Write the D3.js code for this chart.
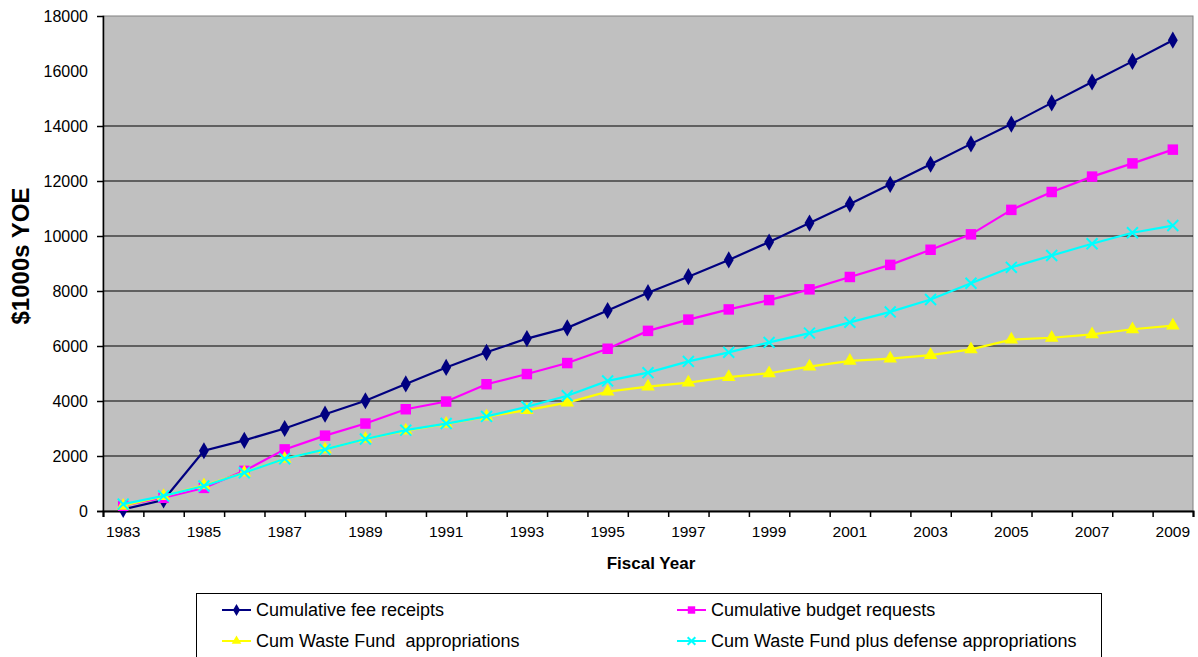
<!DOCTYPE html>
<html>
<head>
<meta charset="utf-8">
<script src="https://cdn.jsdelivr.net/npm/d3@7.9.0/dist/d3.min.js"></script>
<style>
  body { margin: 0; background: #fff; }
  svg { display: block; font-family: "Liberation Sans", Arial, sans-serif; }
</style>
</head>
<body>
<svg id="chart"></svg>
<script>
// fiscal years and cumulative series, $1000s YOE
const years = [1983, 1984, 1985, 1986, 1987, 1988, 1989, 1990, 1991, 1992, 1993, 1994, 1995, 1996,
  1997, 1998, 1999, 2000, 2001, 2002, 2003, 2004, 2005, 2006, 2007, 2008, 2009];
const xLabels = ["1983", "1985", "1987", "1989", "1991", "1993", "1995", "1997", "1999", "2001", "2003", "2005", "2007", "2009"];
const yTicks = [0, 2000, 4000, 6000, 8000, 10000, 12000, 14000, 16000, 18000];
const gridValues = [2000, 4000, 6000, 8000, 10000, 12000, 14000];

const feeReceipts = [60, 400, 2190, 2570, 3000, 3520, 4010, 4620, 5220, 5770, 6270, 6660, 7290, 7940,
  8520, 9130, 9780, 10470, 11160, 11880, 12610, 13350, 14070, 14840, 15600, 16350, 17120];
const budgetRequests = [190, 480, 840, 1460, 2240, 2740, 3180, 3700, 3980, 4610, 4980, 5380, 5900, 6550,
  6960, 7330, 7670, 8060, 8510, 8950, 9500, 10060, 10950, 11600, 12160, 12640, 13140];
const wasteFund = [190, 540, 930, 1400, 1900, 2240, 2620, 2920, 3170, 3430, 3670, 3940, 4340, 4520,
  4670, 4870, 5010, 5250, 5460, 5540, 5670, 5880, 6230, 6300, 6420, 6610, 6740];
const wastePlusDefense = [250, 550, 910, 1390, 1900, 2240, 2620, 2940, 3180, 3440, 3790, 4190, 4730, 5030,
  5440, 5770, 6130, 6470, 6860, 7240, 7690, 8280, 8860, 9290, 9720, 10120, 10380];

const seriesNames = ["Cumulative fee receipts", "Cumulative budget requests",
  "Cum Waste Fund  appropriations", "Cum Waste Fund plus defense appropriations"];

const W = 1198, H = 657;
const plot = { left: 103, right: 1193, top: 16, bottom: 511 };

const svg = d3.select("#chart").attr("width", W).attr("height", H);
svg.append("rect").attr("width", W).attr("height", H).attr("fill", "#fff");

const x = d3.scaleBand().domain(years).range([plot.left, plot.right]);
const xIdx = d3.scaleLinear().domain([0, years.length]).range([plot.left, plot.right]);
const y = d3.scaleLinear().domain([0, 18000]).range([plot.bottom, plot.top]);
const cx = d => x(d) + x.bandwidth() / 2;

// plot area
svg.append("rect")
  .attr("x", plot.left).attr("y", plot.top)
  .attr("width", plot.right - plot.left).attr("height", plot.bottom - plot.top)
  .attr("fill", "#c0c0c0").attr("stroke", "#808080").attr("stroke-width", 1);

svg.append("g").selectAll("line").data(gridValues).join("line")
  .attr("x1", plot.left).attr("x2", plot.right)
  .attr("y1", d => y(d)).attr("y2", d => y(d))
  .attr("stroke", "#000").attr("stroke-width", 1);

// y axis
const yAxis = svg.append("g")
  .attr("transform", `translate(${plot.left},0)`)
  .call(d3.axisLeft(y).tickValues(yTicks).tickSize(6).tickPadding(9).tickFormat(d3.format("d")));
yAxis.select(".domain").attr("stroke", "#000").attr("stroke-width", 1.5);
yAxis.selectAll(".tick line").attr("stroke", "#000").attr("stroke-width", 1.5)
  .filter(d => d > 14000).remove();
yAxis.selectAll(".tick text").attr("font-size", 16).attr("fill", "#000")
  .attr("font-family", "Liberation Sans, Arial, sans-serif");

// x axis: ticks on category boundaries, labels every other year
const xTicks = svg.append("g")
  .attr("transform", `translate(0,${plot.bottom})`)
  .call(d3.axisBottom(xIdx).tickValues(d3.range(years.length + 1)).tickSize(6).tickFormat(""));
xTicks.select(".domain").attr("stroke", "#000").attr("stroke-width", 2);
xTicks.selectAll(".tick line").attr("stroke", "#000").attr("stroke-width", 1.5);

svg.append("g").selectAll("text").data(xLabels).join("text")
  .attr("x", d => cx(+d)).attr("y", plot.bottom + 26)
  .attr("text-anchor", "middle").attr("font-size", 15.5).attr("fill", "#000")
  .text(d => d);

// axis titles
svg.append("text").attr("x", 651).attr("y", 569)
  .attr("text-anchor", "middle").attr("font-size", 17).attr("font-weight", "bold")
  .text("Fiscal Year");
svg.append("text")
  .attr("transform", "translate(29,256) rotate(-90)")
  .attr("text-anchor", "middle").attr("font-size", 24).attr("font-weight", "bold")
  .text("$1000s YOE");

// series
const series = [
  { name: seriesNames[0], values: feeReceipts, color: "#000080", symbol: d3.symbolDiamond, size: 85, stroke: false },
  { name: seriesNames[1], values: budgetRequests, color: "#ff00ff", symbol: d3.symbolSquare, size: 110, stroke: false },
  { name: seriesNames[2], values: wasteFund, color: "#ffff00", symbol: d3.symbolTriangle, size: 80, stroke: false },
  { name: seriesNames[3], values: wastePlusDefense, color: "#00ffff", symbol: d3.symbolTimes || d3.symbolX, size: 80, stroke: true }
];

const line = d3.line().x((d, i) => cx(years[i])).y(d => y(d));

function drawMarker(g, s) {
  const p = g.append("path").attr("d", d3.symbol(s.symbol, s.size)());
  if (s.stroke) p.attr("fill", "none").attr("stroke", s.color).attr("stroke-width", 2);
  else p.attr("fill", s.color);
  return p;
}

series.forEach(s => {
  const g = svg.append("g");
  g.append("path").datum(s.values)
    .attr("fill", "none").attr("stroke", s.color).attr("stroke-width", 2.2)
    .attr("d", line);
  s.values.forEach((v, i) => {
    const m = g.append("g").attr("transform", `translate(${cx(years[i])},${y(v)})`);
    drawMarker(m, s);
  });
});

// legend
const legend = svg.append("g");
legend.append("rect")
  .attr("x", 196.5).attr("y", 593.5).attr("width", 905).attr("height", 80)
  .attr("fill", "#fff").attr("stroke", "#000").attr("stroke-width", 1);

const legendPos = [[222, 610], [677, 610], [222, 641], [677, 641]];
series.forEach((s, i) => {
  const [lx, ly] = legendPos[i];
  const g = legend.append("g");
  g.append("line").attr("x1", lx).attr("x2", lx + 29).attr("y1", ly).attr("y2", ly)
    .attr("stroke", s.color).attr("stroke-width", 2);
  const m = g.append("g").attr("transform", `translate(${lx + 14.5},${ly})`);
  drawMarker(m, Object.assign({}, s, { size: s.size * 0.5 }));
  g.append("text").attr("x", lx + 34).attr("y", ly + 6)
    .attr("font-size", 18).attr("fill", "#000")
    .style("white-space", "pre")
    .text(s.name);
});
</script>
</body>
</html>
